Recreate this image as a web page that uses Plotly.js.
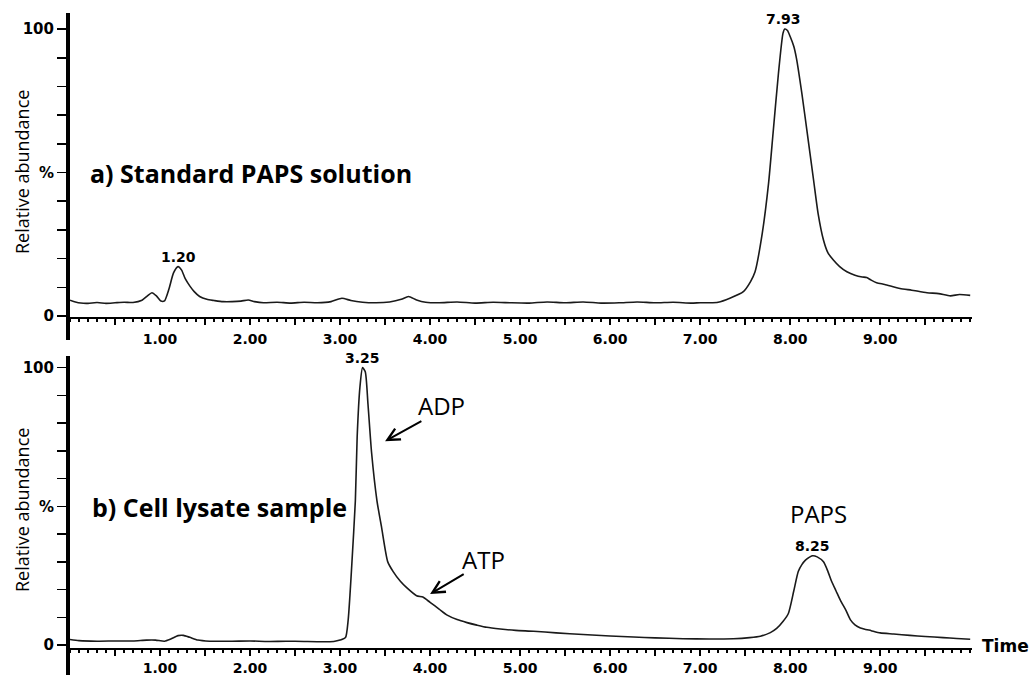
<!DOCTYPE html>
<html>
<head>
<meta charset="utf-8">
<script src="https://cdn.plot.ly/plotly-3.0.1.min.js"></script>
<style>html,body{margin:0;padding:0;background:#fff;}#chart{width:1034px;height:675px;}</style>
</head>
<body>
<div id="chart"></div>
<script>
// Panel a) Standard PAPS solution
const timeA = [0.00,0.05,0.12,0.20,0.30,0.40,0.50,0.60,0.70,0.80,0.86,0.91,0.96,1.01,1.05,1.10,1.15,1.20,1.24,1.28,1.33,1.38,1.44,1.52,1.60,1.70,1.80,1.90,1.98,2.05,2.15,2.30,2.45,2.60,2.75,2.90,3.02,3.12,3.25,3.40,3.55,3.68,3.76,3.85,3.95,4.10,4.30,4.50,4.70,4.90,5.10,5.30,5.50,5.70,5.90,6.10,6.30,6.50,6.70,6.90,7.00,7.10,7.20,7.33,7.48,7.56,7.61,7.69,7.76,7.81,7.87,7.92,7.94,7.97,8.00,8.04,8.07,8.13,8.19,8.26,8.31,8.37,8.42,8.48,8.55,8.63,8.72,8.80,8.85,8.90,8.96,9.05,9.22,9.35,9.52,9.65,9.78,9.88,10.00];
const abundA = [5.5,5.0,4.5,4.4,4.7,4.4,4.6,4.8,4.7,5.5,7.0,8.1,7.0,5.2,5.3,9.5,15.0,17.2,16.0,13.0,10.5,8.5,6.8,5.8,5.4,5.0,5.0,5.2,5.6,5.0,4.6,4.8,4.5,4.8,4.6,5.0,6.2,5.4,4.8,4.6,4.9,5.8,6.8,5.6,4.8,4.6,4.9,4.5,4.8,4.6,4.5,4.9,4.6,4.9,4.5,4.6,4.9,4.6,4.8,4.5,4.6,4.6,4.8,6.2,8.5,12.0,15.4,28.8,46.2,63.7,84.6,98.5,100,99.5,97.4,94.0,89.8,77.6,63.7,47.4,35.8,26.5,22.0,19.5,17.2,15.4,14.2,13.6,13.4,12.5,11.6,11.0,9.6,9.0,8.1,7.8,7.0,7.5,7.2];

// Panel b) Cell lysate sample
const timeB = [0.00,0.10,0.30,0.50,0.70,0.85,0.95,1.05,1.12,1.20,1.26,1.33,1.42,1.55,1.80,2.00,2.20,2.40,2.60,2.80,2.93,3.00,3.06,3.09,3.11,3.13,3.17,3.19,3.22,3.25,3.28,3.31,3.35,3.41,3.46,3.53,3.59,3.67,3.74,3.85,3.92,4.00,4.10,4.19,4.30,4.41,4.52,4.63,4.78,4.95,5.15,5.40,5.70,6.00,6.26,6.50,6.81,7.10,7.37,7.55,7.67,7.78,7.85,7.92,7.98,8.04,8.09,8.13,8.17,8.22,8.25,8.30,8.37,8.42,8.46,8.51,8.56,8.62,8.67,8.72,8.78,8.90,9.00,9.15,9.33,9.50,9.70,9.85,10.00];
const abundB = [2.0,1.6,1.4,1.5,1.5,1.8,1.8,1.4,2.2,3.4,3.5,2.8,1.8,1.4,1.4,1.5,1.3,1.4,1.3,1.2,1.3,1.8,2.7,9.0,18.0,28.8,52.0,75.0,92.7,100,98.5,86.9,69.4,52.0,42.7,30.0,26.5,23.0,20.7,17.8,17.3,15.4,13.0,10.8,9.2,8.1,7.2,6.4,5.8,5.3,5.0,4.4,3.8,3.3,2.9,2.6,2.3,2.2,2.3,2.7,3.2,4.5,6.0,8.5,11.4,19.5,26.5,29.0,30.6,31.8,32.2,31.8,30.0,26.5,23.0,19.5,16.0,12.5,9.1,7.3,6.2,5.2,4.4,4.0,3.5,3.1,2.7,2.4,2.1];

// Axis tick labels
const xTickVals = [0.5,1,1.5,2,2.5,3,3.5,4,4.5,5,5.5,6,6.5,7,7.5,8,8.5,9,9.5];
const xTickText = ["","1.00","","2.00","","3.00","","4.00","","5.00","","6.00","","7.00","","8.00","","9.00",""];
const yTickVals = [0,50,100];
const yTickText = ["0","%","100"];

// Peak labels
const peaksA = [{t:1.20, y:17.2, label:"1.20"},{t:7.93, y:100, label:"7.93"}];
const peaksB = [{t:3.25, y:100, label:"3.25"},{t:8.25, y:32.2, label:"8.25"}];

const tickFont = {family:"DejaVu Sans", size:14, color:"#000", weight:"bold"};

function xAxis(anchor, fontSize, standoff){
  return {
    domain:[70/1034, 972/1034], range:[0,10.02], anchor:anchor,
    showgrid:false, zeroline:false, showline:true, linecolor:"#000", linewidth:2,
    tickmode:"array", tickvals:xTickVals, ticktext:xTickText,
    ticks:"outside", ticklen:6, tickwidth:2, tickcolor:"#000",
    tickfont:Object.assign({}, tickFont, {size:fontSize}),
    ticklabelstandoff:standoff,
    minor:{tickmode:"linear", tick0:0, dtick:0.1, ticks:"outside", ticklen:3, tickwidth:1.5, tickcolor:"#000", showgrid:false}
  };
}
function yAxis(anchor, domain, range){
  return {
    domain:domain, range:range, anchor:anchor,
    showgrid:false, zeroline:false, showline:true, linecolor:"#000", linewidth:4,
    tickmode:"array", tickvals:yTickVals, ticktext:yTickText,
    ticks:"outside", ticklen:9, tickwidth:1.5, tickcolor:"#000",
    tickfont:Object.assign({}, tickFont, {size:15}),
    minor:{tickmode:"linear", tick0:0, dtick:10, ticks:"outside", ticklen:9, tickwidth:1.5, tickcolor:"#000", showgrid:false}
  };
}

const lineStyle = {color:"#1a1a1a", width:1.6, shape:"spline", smoothing:0.6};
const traces = [
  {x:timeA, y:abundA, xaxis:"x", yaxis:"y", mode:"lines", line:lineStyle, hoverinfo:"skip"},
  {x:timeB, y:abundB, xaxis:"x2", yaxis:"y2", mode:"lines", line:lineStyle, hoverinfo:"skip"}
];

const labFont = {family:"DejaVu Sans", size:14, color:"#000", weight:"bold"};
const annotations = [];
peaksA.forEach(p=>annotations.push({x:p.t, y:p.y, xref:"x", yref:"y", text:p.label, showarrow:false, yanchor:"bottom", yshift:0, font:labFont}));
peaksB.forEach(p=>annotations.push({x:p.t, y:p.y, xref:"x2", yref:"y2", text:p.label, showarrow:false, yanchor:"bottom", yshift:0, font:labFont}));

const bigBold = {family:"Open Sans", size:25, color:"#000", weight:"bold"};
const ylabFont = {family:"Open Sans", size:18, color:"#000"};
annotations.push(
  {x:88/1034, y:1-173/675, xref:"paper", yref:"paper", text:"a) Standard PAPS solution", showarrow:false, xanchor:"left", yanchor:"middle", font:bigBold},
  {x:90/1034, y:1-507/675, xref:"paper", yref:"paper", text:"b) Cell lysate sample", showarrow:false, xanchor:"left", yanchor:"middle", font:bigBold},
  {x:22/1034, y:1-172/675, xref:"paper", yref:"paper", text:"Relative abundance", textangle:-90, showarrow:false, xanchor:"center", yanchor:"middle", font:ylabFont},
  {x:22/1034, y:1-510/675, xref:"paper", yref:"paper", text:"Relative abundance", textangle:-90, showarrow:false, xanchor:"center", yanchor:"middle", font:ylabFont},
  {x:980/1034, y:1-646/675, xref:"paper", yref:"paper", text:"Time", showarrow:false, xanchor:"left", yanchor:"middle", font:{family:"DejaVu Sans", size:17, color:"#000", weight:"bold"}},
  {x:4.13, y:86.4, xref:"x2", yref:"y2", text:"ADP", showarrow:false, font:{family:"Open Sans", size:24, color:"#000"}},
  {x:4.59, y:31, xref:"x2", yref:"y2", text:"ATP", showarrow:false, font:{family:"Open Sans", size:24, color:"#000"}},
  {x:8.31, y:47.4, xref:"x2", yref:"y2", text:"PAPS", showarrow:false, font:{family:"Open Sans", size:24, color:"#000"}},
  {x:3.50, y:73.5, ax:3.92, ay:81, xref:"x2", yref:"y2", axref:"x2", ayref:"y2", text:"", showarrow:true, arrowhead:5, arrowsize:1.2, arrowwidth:2, arrowcolor:"#000"},
  {x:4.00, y:18.4, ax:4.39, ay:25.9, xref:"x2", yref:"y2", axref:"x2", ayref:"y2", text:"", showarrow:true, arrowhead:5, arrowsize:1.2, arrowwidth:2, arrowcolor:"#000"}
);

const shapes = [
  {type:"line", xref:"paper", yref:"paper", x0:68/1034, x1:68/1034, y0:1-317/675, y1:1-340/675, line:{color:"#000", width:4}},
  {type:"line", xref:"paper", yref:"paper", x0:68/1034, x1:68/1034, y0:1-648/675, y1:0, line:{color:"#000", width:4}}
];

const layout = {
  width:1034, height:675,
  margin:{l:0, r:0, t:0, b:0},
  paper_bgcolor:"#fff", plot_bgcolor:"#fff",
  showlegend:false,
  xaxis:xAxis("y", 14, 2),
  yaxis:yAxis("x", [1-317/675, 1-13/675], [-0.35,105.6]),
  xaxis2:xAxis("y2", 14, 0),
  yaxis2:yAxis("x2", [1-648/675, 1-356/675], [-1.05,104.2]),
  annotations:annotations,
  shapes:shapes
};

Plotly.newPlot("chart", traces, layout, {staticPlot:true, displayModeBar:false});
</script>
</body>
</html>
